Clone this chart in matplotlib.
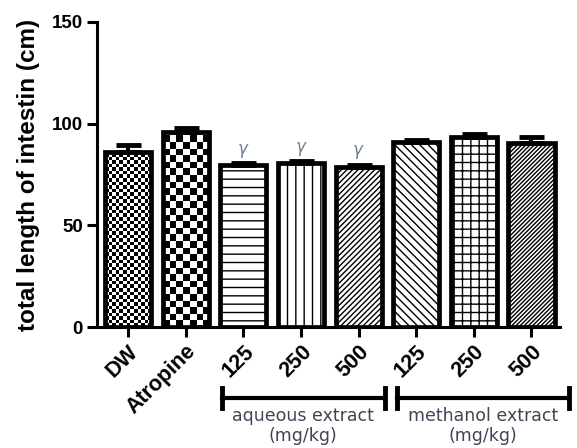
import matplotlib as mpl
import matplotlib.pyplot as plt
import matplotlib.transforms as mtransforms
import numpy as np

mpl.rcParams["font.family"] = ["Liberation Sans", "DejaVu Sans"]
mpl.rcParams["hatch.linewidth"] = 1.0

groups = ["DW", "Atropine", "125", "250", "500", "125", "250", "500"]
means = [86, 96, 79.5, 80.5, 78.5, 91, 93.5, 90.5]
sems = [3.5, 1.8, 1.2, 1.2, 1.4, 1.0, 1.3, 3.0]
marked = [False, False, True, True, True, False, False, False]
hatches = [None, None, "--", "||", "//////", "\\\\\\\\", "++", "////////"]
checker_cells = [13, 7, 0, 0, 0, 0, 0, 0]  # checker cells across a bar
extract_groups = [("aqueous extract\n(mg/kg)", 1.63, 4.45),
                  ("methanol extract\n(mg/kg)", 4.66, 7.66)]

fig = plt.figure(figsize=(5.77, 4.48), dpi=100)
ax = fig.add_axes([0.168, 0.270, 0.802, 0.681])
ax.set_xlim(-0.54, 7.49)
ax.set_ylim(0, 150)

x = np.arange(len(groups))
bars = ax.bar(x, means, width=0.80, color="white", edgecolor="black",
              linewidth=3.4, zorder=2)

# pixels per data unit, to keep checker cells square
p0 = ax.transData.transform((0, 0))
p1 = ax.transData.transform((1, 1))
px_x, px_y = p1 - p0

for bar, h, n in zip(bars, hatches, checker_cells):
    if h:
        bar.set_hatch(h)
    if n:
        bar.set_facecolor("none")
        x0, w, top = bar.get_x(), bar.get_width(), bar.get_height()
        cell_h = (w / n) * px_x / px_y
        rows = int(np.ceil(top / cell_h))
        grid = (np.add.outer(np.arange(rows), np.arange(n)) % 2).astype(float)
        img = ax.imshow(grid, cmap="gray", vmin=0, vmax=1,
                        extent=(x0, x0 + w, 0, rows * cell_h),
                        origin="lower", aspect="auto",
                        interpolation="nearest", zorder=1.9)
        img.set_clip_path(bar)

ax.errorbar(x, means, yerr=[np.zeros(len(sems)), sems], fmt="none",
            ecolor="black", elinewidth=3, capsize=9, capthick=3.5, zorder=3)

for xi, m, s, flag in zip(x, means, sems, marked):
    if flag:
        ax.text(xi, m + s + 1.5, r"$\gamma$", ha="center", va="bottom",
                fontsize=12, color="#6f7f8f")

ax.set_xlim(-0.54, 7.49)
ax.set_ylim(0, 150)
ax.set_yticks([0, 50, 100, 150])
ax.set_xticks(x)
ax.set_xticklabels(groups, rotation=45, ha="right", rotation_mode="anchor",
                   fontsize=15.5, fontweight="bold")
shift = mtransforms.ScaledTranslation(6 / 100, -4 / 100, fig.dpi_scale_trans)
for lbl in ax.get_xticklabels():
    lbl.set_transform(lbl.get_transform() + shift)
for lbl in ax.get_yticklabels():
    lbl.set_fontweight("bold")
    lbl.set_fontsize(13.5)
ax.tick_params(axis="both", width=2.2, length=7, direction="out", pad=3)
ax.spines["top"].set_visible(False)
ax.spines["right"].set_visible(False)
ax.spines["left"].set_linewidth(2.2)
ax.spines["bottom"].set_linewidth(2.2)
ax.set_ylabel("total length of intestin (cm)", fontsize=17.5, fontweight="bold")
ax.yaxis.set_label_coords(-0.123, 0.5)

# dose group brackets under the tick labels
trans = ax.get_xaxis_transform()
for label, x0, x1 in extract_groups:
    ax.plot([x0, x1], [-0.233, -0.233], color="black", lw=3,
            transform=trans, clip_on=False)
    for xe in (x0, x1):
        ax.plot([xe, xe], [-0.200, -0.266], color="black", lw=3.5,
                transform=trans, clip_on=False)
    ax.text((x0 + x1) / 2, -0.262, label, transform=trans, ha="center",
            va="top", fontsize=12.5, color="#4a4055", linespacing=1.15,
            family="DejaVu Sans")

fig.savefig("out.png", dpi=100)
